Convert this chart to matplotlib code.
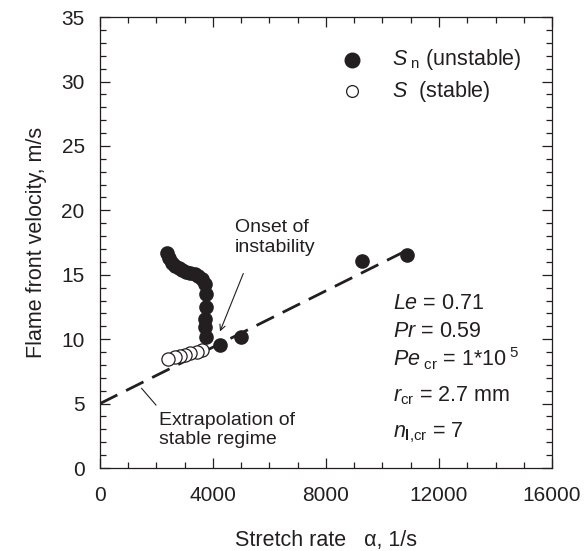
import numpy as np
import matplotlib
matplotlib.use("Agg")
import matplotlib.pyplot as plt

plt.rcParams['font.family'] = ['Liberation Sans', 'DejaVu Sans']
plt.rcParams['mathtext.fontset'] = 'custom'
plt.rcParams['mathtext.rm'] = 'Liberation Sans'
plt.rcParams['mathtext.it'] = 'Liberation Sans:italic'
plt.rcParams['mathtext.bf'] = 'Liberation Sans:bold'

# ---------------------------------------------------------------------------
# Data
# ---------------------------------------------------------------------------

# unstable regime, S_n (filled)
unstable_rate = [2380, 2450, 2550, 2650, 2780, 2900, 3050, 3200, 3350, 3480,
                 3600, 3700, 3760, 3760, 3720, 3720, 3740, 4250, 5000, 9260, 10870]
unstable_vel = [16.7, 16.3, 15.95, 15.7, 15.5, 15.35, 15.25, 15.15, 15.05, 14.9,
                14.7, 14.3, 13.5, 12.5, 11.6, 10.95, 10.2, 9.55, 10.15, 16.1, 16.5]

# stable regime, S (open)
stable_rate = [2420, 2650, 2830, 3010, 3190, 3420, 3600]
stable_vel = [8.5, 8.6, 8.7, 8.78, 8.9, 9.02, 9.15]

# extrapolation of the stable regime
extrap_rate = [0, 10870]
extrap_vel = [5.0, 16.9]

params = [
    r'$\mathit{Le}$ = 0.71',
    r'$\mathit{Pr}$ = 0.59',
    r'$\mathit{Pe}_{\rm\ cr}$ = 1*10$^{\ 5}$',
    r'$\mathit{r}_{\rm cr}$ = 2.7 mm',
    r'$\mathit{n}_{\mathbf{l}{\rm{,}cr}}$ = 7',
]
param_y = [12.8, 10.6, 8.5, 5.65, 2.75]

FS_TICK = 15
FS_TEXT = 15.5
FS_NOTE = 14
INK = '#231f20'

fig = plt.figure(figsize=(5.86, 5.51), dpi=100)
ax = fig.add_axes([0.1706, 0.1506, 0.942 - 0.1706, 0.969 - 0.1506])

ax.plot(extrap_rate, extrap_vel, color=INK, lw=2.0, dashes=(7, 3.5), zorder=1)

ax.plot(stable_rate[::-1], stable_vel[::-1], 'o', ls='none', ms=9.5,
        mfc='white', mec=INK, mew=0.9, zorder=2)
ax.plot(unstable_rate, unstable_vel, 'o', ls='none', ms=9.5,
        mfc=INK, mec=INK, zorder=3)

# legend drawn by hand
ax.plot([8909], [31.7], 'o', ms=10.5, mfc=INK, mec=INK)
ax.plot([8909], [29.25], 'o', ms=8.5, mfc='white', mec=INK, mew=0.9)
ax.text(10324, 31.7, r'$\mathit{S}_{\rm\ n}$ (unstable)', fontsize=FS_TEXT,
        va='center', ha='left', color=INK)
ax.text(10324, 29.25, r'$\mathit{S}$  (stable)', fontsize=FS_TEXT,
        va='center', ha='left', color=INK)

for s, yv in zip(params, param_y):
    ax.text(10372, yv, s, fontsize=FS_TEXT, va='center', ha='left', color=INK)

# annotations
ax.annotate('', xy=(4248, 10.6), xytext=(5073, 15.1),
            arrowprops=dict(arrowstyle='->', color=INK, lw=0.8,
                            shrinkA=0, shrinkB=0))
ax.text(4779, 17.9, 'Onset of\ninstability', fontsize=FS_NOTE, va='center',
        ha='left', color=INK, linespacing=1.2)
ax.plot([1475, 1982], [6.18, 4.89], color=INK, lw=0.8)
ax.text(2100, 2.95, 'Extrapolation of\nstable regime', fontsize=FS_NOTE,
        va='center', ha='left', color=INK, linespacing=1.2)

ax.set_xlim(0, 16000)
ax.set_ylim(0, 35)
ax.set_xticks(np.arange(0, 16001, 4000))
ax.set_xticks(np.arange(0, 16001, 1000), minor=True)
ax.set_yticks(np.arange(0, 36, 5))
ax.set_yticks(np.arange(0, 36, 1), minor=True)
ax.tick_params(which='both', direction='in', top=True, right=True,
               colors=INK, labelsize=FS_TICK, width=0.9)
ax.tick_params(which='major', length=7, pad=13)
ax.tick_params(which='minor', length=4)
ax.tick_params(axis='y', which='major', pad=11)
for sp in ax.spines.values():
    sp.set_color(INK)
    sp.set_linewidth(0.9)

ax.set_xlabel('Stretch rate   α, 1/s', fontsize=FS_TEXT, color=INK, labelpad=18)
ax.set_ylabel('Flame front velocity, m/s', fontsize=FS_TEXT, color=INK, labelpad=10)

fig.savefig('out.png', dpi=100)
